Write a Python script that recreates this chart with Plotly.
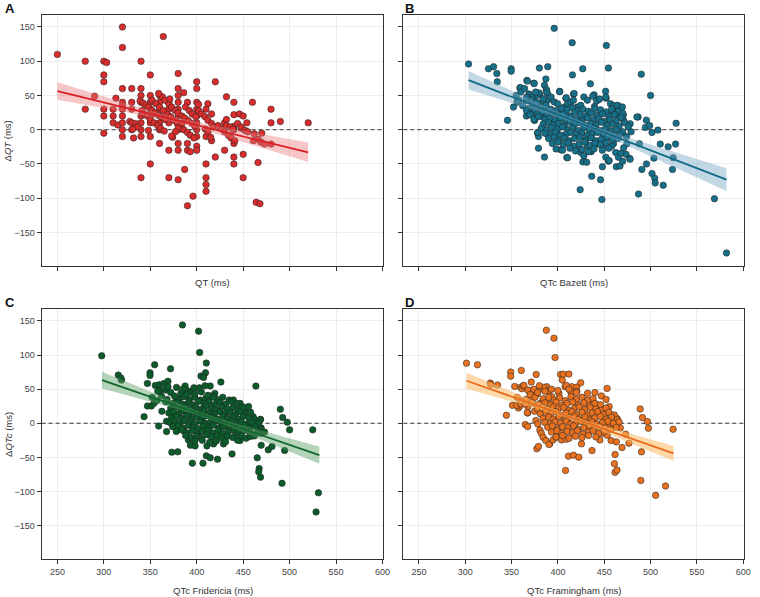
import numpy as np
import plotly.graph_objects as go

# ---------------- data ----------------
x_ticks = [250, 300, 350, 400, 450, 500, 550, 600]
y_ticks = [-150, -100, -50, 0, 50, 100, 150]

panel_letters = ["A", "B", "C", "D"]
x_titles = ["QT (ms)", "QTc Bazett (ms)", "QTc Fridericia (ms)", "QTc Framingham (ms)"]
y_titles = ["Δ<i>QT</i> (ms)", "", "Δ<i>QTc</i> (ms)", ""]

# Panel A: QT vs ΔQT
qt_points = [
    (250,110),(280,100),(280,30),(290,49),(300,100),(303,98),(300,80),(300,70),(300,30),(300,20),(300,-5),
    (310,30),(310,20),(310,10),(313,46),(315,7),
    (320,150),(320,120),(320,60),(320,40),(320,35),(320,30),(320,20),(320,10),(320,0),(320,-10),
    (330,60),(330,40),(330,30),(328,12),(330,10),(330,0),(332,-12),
    (340,100),(340,60),(340,50),(340,40),(340,20),(340,10),(340,0),(340,-10),(340,-70),
    (350,80),(350,50),(350,40),(350,30),(350,20),(350,10),(350,-10),(350,-50),
    (364,136),(360,50),(360,40),(360,30),(360,20),(360,10),(360,0),(360,-20),
    (370,40),(370,30),(370,20),(370,10),(370,-30),(370,-70),(374,-11),
    (380,82),(380,60),(380,50),(380,40),(380,30),(380,20),(380,10),(380,0),(380,-20),(380,-30),(380,-73),
    (386,54),(387,-58),(390,-111),(390,-20),(390,-30),(390,40),(393,-32),(396,-97),
    (400,70),(400,60),(400,40),(400,30),(400,20),(400,10),(400,0),(400,-10),(400,-24),(400,-30),(402,37),
    (410,-50),(410,-70),(410,-80),(410,-90),(410,30),(412,38),(410,-10),(416,23),(420,70),(420,-40),(416,-16),
    (430,-30),(432,48),(430,10),(432,15),(440,40),(440,22),(440,-40),(440,-50),(440,-20),(440,5),(440,0),
    (446,23),(448,2),(450,20),(450,-36),(450,-70),(454,10),(460,40),(461,-16),(466,-48),(464,-106),(468,-108),
    (470,-5),(480,30),(480,10),(480,-21),(490,12),(520,10),
    (339,42),(342,39),(345,36),(348,33),(352,28),(355,24),(359,21),(363,18),(366,15),(341,28),(343,23),
    (347,20),(350,15),(354,10),(358,6),(361,2),(365,-2),(370,38),(373,33),(377,28),(380,24),(384,20),
    (387,17),(391,13),(395,9),(398,5),(402,28),(405,23),(409,19),(412,14),(416,9),(418,4),(368,23),
    (372,19),(375,14),(379,9),(383,4),(386,0),(390,-4),(393,-8),(397,-12),(363,48),(366,43),(371,45),
    (359,53),(352,43),(356,38),(360,33),(364,28),(388,33),(392,28),(395,23),(399,19),(384,9),(380,2),
    (377,-3),(373,-9),(334,9),(336,4),(331,1),(348,-1),(409,1),(412,-3),(415,-11),(423,6),(427,1),
    (430,-3),(434,-8),(437,-12),(441,-16),(432,6),(436,4),(439,1),(444,9),(448,4),(452,-1),(455,-3),
    (462,-6),(466,-14),(469,-18),(473,-21),
]

# Panel B: QTc Bazett vs ΔQTc
bazett_points = [
    (303.5,96),(325,89),(330.5,92),(334,82),(334.5,70),(349.5,89),(349.5,85.5),(345.5,13.7),(356,41.5),
    (359,61),(366.5,72),(366,20),(368.7,52),(368,31),(373,37),(374,68),(374.5,47),(376.5,23),(378,-5),
    (379,-10),(379,-27),(380,90),(380.5,51),(385.5,-40),(386,34),(387,74),(387.5,58),(388.6,53),(389,92),
    (389,-7),(384,18.6),(392.5,9),(396,148),(402,56),(399,-1),(408.6,46),(409.6,-40.6),(415.4,127),
    (415.7,80),(416.8,52),(424,-87.5),(426.8,89),(427,-47),(435,67),(436,-32),(436.5,-68),(439,51),
    (439.5,34),(444,44),(446,-73),(447.5,-102),(448,-54),(451.5,56),(452,46),(452.3,123),(454.5,90),
    (454.5,-46),(459,28),(459.6,34),(460,-20.5),(463,-54),(465,35),(467,-53),(468.6,22),(469.9,-46),
    (470.6,21.5),(473.5,-36),(474.5,-20.5),(477.4,-42),(479,-3),(486.6,18.6),(487,-94),(488,-20.5),
    (490,81),(490.6,-58),(494.5,3.4),(495.5,14),(495.6,-50),(499,6),(500,50),(501.6,-64),(501.6,-4),
    (503.7,-41.5),(504.5,-71),(505,-77.7),(508,-0.5),(510.5,-21),(513.7,-81),(519,-25),(523.7,-58),
    (524.4,-41),(527,-21),(527.6,9.3),(569,-100.7),(582,-180),
    (359.4,61.5),(367,71),(374.4,67.4),(369,51.7),(372,47.8),(378,50.7),(379.7,53.7),(385.5,65),
    (387.6,58.5),(388,54.6),(356,40),(366,43),(369,30),(374.8,28.3),(374.8,13.6),(378.3,23.4),(382,38),
    (385.5,33),(389,43),(392.6,47.8),(396,40.5),(399.7,38),(401.8,55.6),(409,46.8),(398.3,23.4),(403,28.3),
    (406.8,33),(410.4,38),(414,40),(417.5,52.7),(416.8,43),(421,33),(424.7,35.6),(428,47.8),(431.8,43),
    (437.5,48.8),(441.8,42),(445,44.9),(451.7,47.8),(456.7,38),(460.3,35),(463.9,35.6),(469.6,33.2),
    (456,23.4),(462.4,22.4),(467.4,21.4),(471,13.6),(478,8.7),(485.3,18.5),
    (378.3,-4),(403,-10.8),(403,-29.4),(410.4,-41),(419,-26.5),(424.7,-33.3),(428,-38.2),(431.8,-23.5),
    (435.3,-30.4),(431,-47.5),(442.5,-20.6),(448,-24.5),(451.7,-40.2),(455.3,-45),(462.4,-33.3),
    (465.3,-40.2),(468,-34.3),(471,-26.5),(478,-43),
    (392,30),(398,28),(404,31),(410,29),(416,32),(421,28),(427,30),(433,27),(440,31),(446,29),(452,26),
    (458,30),(465,27),(470,24),
    (388,22),(394,24),(400,21),(406,23),(412,20),(418,25),(424,22),(430,20),(436,24),(442,21),(448,23),
    (455,19),(461,22),(468,18),
    (386,15),(391,17),(397,14),(403,16),(409,13),(414,18),(420,15),(426,13),(432,17),(438,14),(444,16),
    (450,12),(456,15),(463,13),(472,10),
    (384,8),(390,10),(395,7),(401,9),(407,6),(413,11),(418,8),(424,10),(430,6),(436,9),(441,7),(447,11),
    (453,6),(459,8),(466,5),(476,4),
    (382,2),(388,0),(393,3),(399,1),(405,4),(411,0),(416,2),(422,-1),(428,3),(434,0),(439,2),(445,-1),
    (451,1),(457,-2),(463,0),(470,-3),
    (386,-5),(392,-7),(397,-4),(403,-8),(409,-6),(414,-4),(420,-7),(426,-5),(432,-8),(437,-6),(443,-4),
    (449,-8),(455,-6),(461,-9),(467,-7),(474,-10),
    (390,-13),(396,-11),(401,-15),(407,-12),(412,-16),(418,-13),(424,-11),(430,-15),(436,-12),(441,-16),
    (447,-14),(453,-11),(459,-15),(465,-13),
    (394,-20),(400,-18),(406,-22),(411,-19),(417,-24),(423,-21),(429,-18),(435,-23),(440,-20),(446,-22),
    (452,-19),(458,-24),
    (398,-28),(405,-30),(413,-27),(419,-31),(426,-29),(433,-32),(439,-28),(448,-30),(455,-27),
    (362,35),(366,28),(370,22),(374,15),(377,40),(381,33),(383,26),(379,19),(371,44),(366,47),(360,55),
    (355,50),(364,60),(376,55),(384,45),(358,43),(352,33),(387,36),
]

# Panel C: QTc Fridericia vs ΔQTc
fridericia_points = [
    (297.7,98.9),(315.5,70.6),(319,63.3),(318.4,66.3),(384.6,144.2),(402,135),(403.1,103.8),(410.3,88.2),
    (409.5,74),(404.6,69.2),(407.4,67.2),(354.7,85.7),(349.7,74),(349.7,70.1),(371.8,79.9),(346.9,58.4),
    (355.4,55.5),(359.7,56.5),(364.7,58.4),(369,61.4),(361.1,48.7),(366.8,48.7),(369,53.6),(378.2,52.6),
    (387.5,54.6),(388.9,48.7),(393.9,46.8),(378.2,34.1),(381.1,36),(346.9,25.3),(351.1,25.3),(354,29.2),
    (343.3,9.7),(362.5,17.5),(366.8,31.2),(359,-4.1),(367.5,-12.2),(373.2,-42.4),(379.6,-41.9),
    (395.3,-58.5),(406.7,-58.5),(410.3,-47.8),(414.5,-50.7),(422.4,-52.7),(411,-33.2),(418.1,-30.3),
    (438,-44.9),(463.7,54.5),(465.1,-50.7),(467.2,-66.3),(468.7,-79),(469.4,-32.2),(414.5,54.6),
    (419.5,43.8),(426,60.4),(439.5,34.1),(446.6,29.2),(451.6,19.5),(455.8,24.4),(460.8,9.7),(468.7,5.8),
    (469.4,-6.9),(469.4,-14.6),(446.6,-25.4),(440.2,-19.5),(428.8,-30.3),(425.2,-16.6),(391,-24.4),
    (393.2,-32.2),(398.2,-33.2),(386,-10.8),(379.6,-5),(367.5,2.9),(372.5,2.9),(376,7.8),
    (466.7,-71),(473,-13),(477,-39),(481,-34),(490,20.5),(492.5,8.3),(491.8,-88),(494.6,-40),(497.5,1.5),
    (500,-9.7),(524.9,-9.7),(528.5,-130),(531,-102),(449.8,-7),(453.3,-22),(457.6,-19.5),(462,-18.5),
    (464.4,-14.6),(467.6,-5.8),(468.3,4.9),(466,-1.9),
    (380,36),(386,39),(392,35),(398,38),(404,34),(410,37),(416,40),(422,35),(428,38),(435,34),
    (374,29),(379,31),(385,28),(391,30),(396,27),(402,32),(408,29),(413,31),(419,27),(425,30),(431,28),
    (437,32),(443,29),
    (372,22),(377,24),(383,21),(388,25),(394,20),(399,23),(405,21),(410,25),(416,22),(421,20),(427,24),
    (433,21),(439,23),(444,20),(450,24),
    (370,15),(375,17),(381,14),(386,18),(392,13),(397,16),(403,14),(408,18),(414,15),(419,13),(425,17),
    (430,14),(436,16),(442,13),(447,17),(453,14),(458,16),
    (373,8),(378,10),(384,7),(389,11),(395,6),(400,9),(406,7),(411,11),(417,8),(422,6),(428,10),(433,7),
    (439,9),(445,6),(450,10),(456,8),(462,6),
    (371,1),(376,3),(382,0),(387,4),(393,2),(398,-1),(404,3),(409,0),(415,2),(420,4),(426,1),(431,-1),
    (437,3),(443,0),(448,2),(454,-1),(460,1),(466,0),
    (374,-5),(380,-4),(385,-7),(391,-3),(396,-6),(402,-8),(407,-4),(413,-6),(418,-3),(424,-7),(429,-5),
    (435,-8),(440,-4),(446,-6),(452,-3),(457,-7),(463,-5),
    (378,-12),(384,-10),(389,-14),(395,-11),(401,-15),(406,-12),(412,-10),(417,-14),(423,-11),(428,-15),
    (434,-12),(440,-10),(445,-14),(451,-11),(457,-13),
    (388,-18),(394,-21),(400,-19),(405,-22),(411,-17),(416,-20),(422,-18),(427,-22),(433,-19),(439,-21),
    (448,-18),
    (398,-26),(406,-25),(414,-28),(421,-26),(431,-27),(444,-25),
    (372,45),(376,40),(383,44),(389,42),(395,45),(368,35),(362,40),(357,33),(352,38),(358,47),(385,50),
    (398,44),(405,46),(412,41),(418,38),(403,52),(397,52),(409,55),
]

# Panel D: QTc Framingham vs ΔQTc
framingham_points = [
    (301.3,88.1),(313.1,85.7),(327,58.9),(327.7,57),(334.8,56),(349,75),(349,69),(360.5,77.4),(344.4,11.7),
    (350.9,26.3),(353.4,54),(357.3,22.4),(359,25.3),(359.8,52.6),(361.2,50.6),(362.6,55),(364.8,-2),
    (367.3,-4.9),(367.3,15),(368.7,47.7),(371.2,60.4),(372.2,31.2),(373.3,46.3),(376.5,71.6),(377.2,-37.5),
    (379,-34),(380.8,50.2),(387.9,53.6),(387.5,136.4),(390.4,47.2),(391.1,-30.2),(395.7,124.7),(396.9,96.4),
    (402.9,71.6),(405.7,72),(404.7,63.3),(407.8,53.6),(408.2,-69.2),(411.4,-48.2),(415,53.6),(416.8,-46.8),
    (420.4,53),(422.5,-49.7),(424.6,59.4),(453.1,51.1),(455.3,24.4),(461.7,-45.8),(461,-59.4),(461.7,-72),
    (463.8,-68.7),(469.2,-35.5),(473.1,-16),(476.7,-29.2),(488.8,21),(490.2,-41.9),(491.3,8.3),
    (489.5,-83.8),(496.6,2.4),(497.7,-7.3),(516.2,-92),(505.5,-105.7),(524.4,-8.8),
    (363.3,55.5),(367.6,48.7),(374,49.7),(377.6,42.9),(384.7,52.6),(411.8,72.1),(409,55.5),(420.4,46.8),
    (414,45.8),(401.1,43.8),(355.5,26.3),(359.8,28.2),(367.6,24.4),(366.9,15.6),(374.8,17.5),(376.9,26.3),
    (381.9,30.2),(388.3,34.1),(393.3,39),(371.2,37),(383.3,21.4),(376.2,3.9),(378.3,-1),(380.5,-9.8),
    (382,-14.7),(384,-20.5),(387,-25.4),(390.4,-31.2),(394.7,-24.4),(398.3,-20.5),(404,-24.4),(409,-23.4),
    (425.4,-30.2),(436.8,-40),(451.7,14.6),(458.9,11.7),(463.9,6.8),(464.6,1.9),(451.7,1),(456,-5.9),
    (460.3,-5.9),(467.4,-6.8),(446,-6.8),(438.9,1),(435.3,6.8),(429.6,10.7),(433.2,29.2),(438.2,31.2),
    (441.8,27.3),(448.2,-14.7),(445.3,-24.4),(453.2,-17.6),(457.4,-25.4),(463.1,-27.3),
    (384,36),(390,38),(396,34),(402,37),(408,33),(414,39),(420,35),(426,38),(432,34),(438,36),
    (380,28),(386,30),(392,27),(398,31),(404,26),(410,29),(416,31),(422,27),(428,30),(434,26),(440,29),
    (446,27),
    (378,21),(383,23),(389,20),(395,24),(400,21),(406,23),(412,19),(418,22),(423,24),(429,20),(435,23),
    (441,21),(447,19),(452,22),
    (381,14),(387,16),(392,13),(398,17),(403,12),(409,15),(415,17),(420,13),(426,16),(432,12),(437,15),
    (443,17),(449,13),(455,16),(461,12),
    (384,7),(390,9),(395,6),(401,10),(407,5),(412,8),(418,10),(423,6),(429,9),(435,5),(440,8),(446,10),
    (452,6),(458,9),(464,5),
    (386,1),(392,-1),(397,2),(403,0),(409,3),(414,-1),(420,1),(425,3),(431,0),(437,2),(442,-1),(448,1),
    (454,3),(460,0),(466,2),
    (389,-6),(394,-4),(400,-8),(405,-5),(411,-7),(417,-4),(422,-9),(428,-6),(434,-4),(439,-8),(445,-5),
    (451,-7),(457,-9),(463,-6),
    (393,-13),(399,-11),(404,-15),(410,-12),(416,-14),(421,-11),(427,-16),(433,-13),(438,-11),(444,-15),
    (450,-12),
    (398,-20),(405,-18),(412,-22),(419,-19),(426,-21),(433,-18),(441,-20),
    (366,35),(370,42),(375,38),(372,30),(360,33),(365,28),(356,38),(378,45),(386,47),(393,50),(400,48),
    (412,50),(420,45),(432,44),(440,45),(447,40),(452,35),(380,55),
]

# Linear fits: x start, x end, fitted y at start/end,
# 95% CI half-width at start, at its narrowest, and at end
fit_x_start = [250, 303.5, 298, 301.3]
fit_x_end = [520, 582, 532, 524.8]
fit_y_start = [56.5, 72.3, 63.3, 62.3]
fit_y_end = [-33, -72.8, -46.8, -44.3]
ci_hw_start = [12.7, 13.5, 12.2, 11.7]
ci_hw_min = [4.0, 3.0, 2.8, 2.8]
ci_hw_end = [14.2, 16.6, 12.7, 11.0]
zero_level = 0

all_points = [qt_points, bazett_points, fridericia_points, framingham_points]

# ---------------- styling ----------------
point_colors = ["#d92d2d", "#16708a", "#0b5b2b", "#e8711f"]
line_colors = ["#d91e24", "#0f6a85", "#116930", "#ea6a1c"]
band_colors = ["rgba(236,120,120,0.42)", "rgba(120,168,198,0.45)",
               "rgba(90,160,100,0.45)", "rgba(252,186,100,0.55)"]

W, H = 760, 597
panels_px = [  # left, right, top, bottom (pixels)
    (42, 387, 15, 266),
    (407, 751, 15, 266),
    (42, 387, 309, 559),
    (407, 751, 309, 559),
]
x_range = [233, 601]
y_range = [-199, 167.5]


def px_x(p):
    return p / W


def px_y(p):
    return 1 - p / H


font_family = "Liberation Sans, Arial, Helvetica, sans-serif"
axis_col = "#333333"

fig = go.Figure()
annotations = []
layout_axes = {}

for i in range(4):
    n = i + 1
    sfx = "" if n == 1 else str(n)
    xa, ya = "x" + sfx, "y" + sfx
    pts = all_points[i]
    xs = [p[0] for p in pts]
    ys = [p[1] for p in pts]

    # dashed zero reference line (above grid, below points)
    fig.add_trace(go.Scatter(
        x=x_range, y=[zero_level, zero_level], mode="lines", xaxis=xa, yaxis=ya,
        line=dict(color="#222222", width=0.9, dash="4px,3px"), showlegend=False,
        hoverinfo="skip"))

    fig.add_trace(go.Scatter(
        x=xs, y=ys, mode="markers", xaxis=xa, yaxis=ya, showlegend=False,
        marker=dict(size=6.5, color=point_colors[i],
                    line=dict(width=0.6, color="rgba(35,35,35,0.9)")),
        hoverinfo="x+y"))

    # regression line with CI band
    x0, x1 = fit_x_start[i], fit_x_end[i]
    y0, y1 = fit_y_start[i], fit_y_end[i]
    h0, hm, h1 = ci_hw_start[i], ci_hw_min[i], ci_hw_end[i]
    r = np.sqrt((h0**2 - hm**2) / (h1**2 - hm**2))
    xc = (x0 + r * x1) / (1 + r)
    k = (h0**2 - hm**2) / (xc - x0) ** 2
    xx = np.linspace(x0, x1, 80)
    yy = y0 + (y1 - y0) * (xx - x0) / (x1 - x0)
    hw = np.sqrt(hm**2 + k * (xx - xc) ** 2)
    fig.add_trace(go.Scatter(
        x=np.concatenate([xx, xx[::-1]]), y=np.concatenate([yy + hw, (yy - hw)[::-1]]),
        mode="lines", fill="toself", fillcolor=band_colors[i], line=dict(width=0),
        xaxis=xa, yaxis=ya, showlegend=False, hoverinfo="skip"))
    fig.add_trace(go.Scatter(
        x=[x0, x1], y=[y0, y1], mode="lines", line=dict(color=line_colors[i], width=1.8),
        xaxis=xa, yaxis=ya, showlegend=False, hoverinfo="skip"))

    l, rr, t, b = panels_px[i]
    dom_x = [px_x(l), px_x(rr)]
    dom_y = [px_y(b), px_y(t)]
    common = dict(showline=True, linecolor=axis_col, linewidth=1, mirror=True,
                  ticks="outside", ticklen=4, tickcolor=axis_col, tickwidth=1,
                  showgrid=True, gridcolor="#ededed", gridwidth=0.6, zeroline=False,
                  tickfont=dict(size=9, color="#444444", family=font_family))
    layout_axes["xaxis" + sfx] = dict(common, domain=dom_x, range=x_range, tickvals=x_ticks,
                                      showticklabels=(n >= 3), anchor=ya)
    layout_axes["yaxis" + sfx] = dict(common, domain=dom_y, range=y_range, tickvals=y_ticks,
                                      showticklabels=(n in (1, 3)), anchor=xa)

    # panel letter
    lx = 3 if n in (1, 3) else l
    annotations.append(dict(text="<b>%s</b>" % panel_letters[i], xref="paper", yref="paper",
                            x=px_x(lx), y=px_y(t - 7),
                            xanchor="left", yanchor="middle", showarrow=False,
                            font=dict(size=13, color="#111111", family=font_family)))
    # x title
    ty = b + (16 if n <= 2 else 31)
    annotations.append(dict(text=x_titles[i], xref="paper", yref="paper",
                            x=px_x((l + rr) / 2), y=px_y(ty), xanchor="center", yanchor="middle",
                            showarrow=False, font=dict(size=9.5, color="#333333", family=font_family)))
    # y title
    if y_titles[i]:
        annotations.append(dict(text=y_titles[i], xref="paper", yref="paper",
                                x=px_x(8), y=px_y((t + b) / 2), xanchor="center", yanchor="middle",
                                textangle=-90, showarrow=False,
                                font=dict(size=9.5, color="#333333", family=font_family)))

fig.update_layout(width=W, height=H, margin=dict(l=0, r=0, t=0, b=0),
                  plot_bgcolor="white", paper_bgcolor="white",
                  annotations=annotations, showlegend=False,
                  font=dict(family=font_family), **layout_axes)

fig.write_html("out.html", config={"displayModeBar": False},
               post_script="document.body.style.margin='0px';document.body.style.overflow='hidden';")
